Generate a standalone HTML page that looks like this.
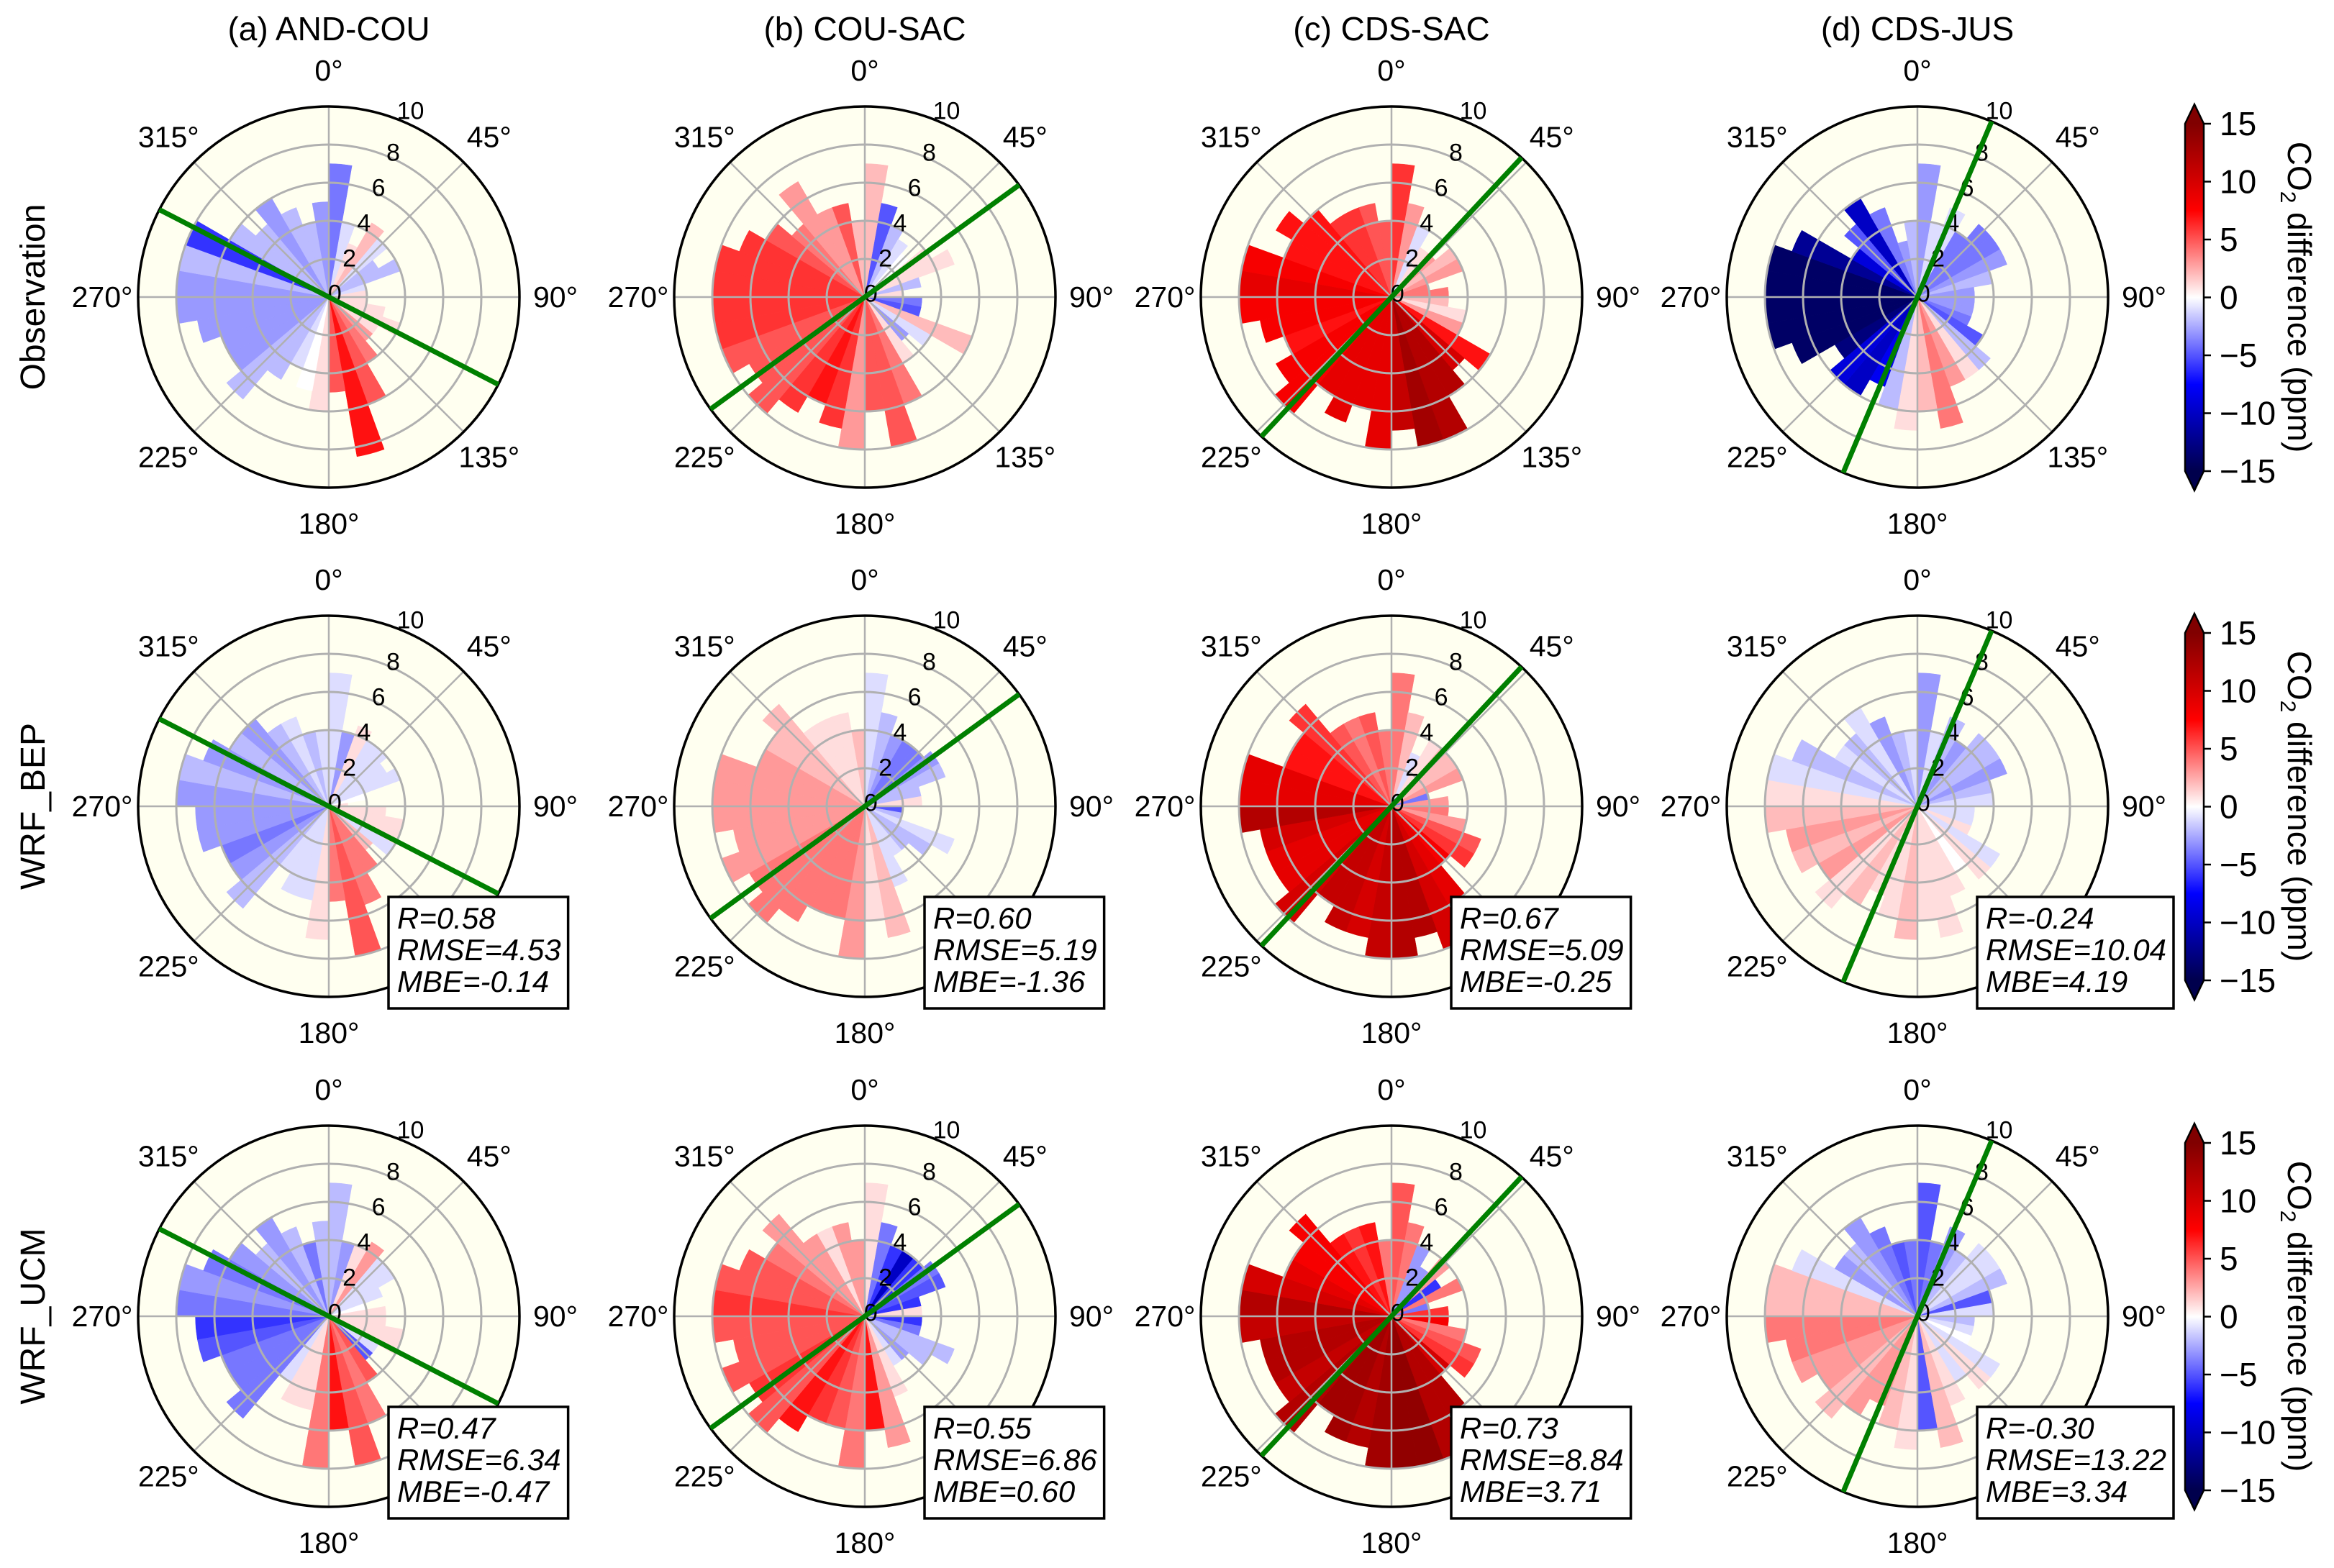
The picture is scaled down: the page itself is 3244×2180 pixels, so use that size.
<!DOCTYPE html>
<html><head><meta charset="utf-8"><title>CO2 difference polar plots</title>
<style>
html,body{margin:0;padding:0;background:#fff;}
svg{display:block;font-family:"Liberation Sans",Arial,sans-serif;}
</style></head>
<body>
<svg id="fig" xmlns="http://www.w3.org/2000/svg" width="3244" height="2180" viewBox="0 0 3244 2180">
<rect width="3244" height="2180" fill="#ffffff"/>
</svg>
<script>
// ---- data ----
const sectorAngles = [0,10,20,30,40,50,60,70,80,90,100,110,120,130,140,150,160,170,180,190,200,210,220,230,240,250,260,270,280,290,300,310,320,330,340,350];
const columnTitles = ["(a) AND-COU","(b) COU-SAC","(c) CDS-SAC","(d) CDS-JUS"];
const rowTitles = ["Observation","WRF_BEP","WRF_UCM"];
const radialTicks = [0,2,4,6,8,10];
const thetaTicks = [0,45,90,135,180,225,270,315];
const colorbarTicks = [-15,-10,-5,0,5,10,15];

const obsA_val = [-4,-1,1,2,-1,-2,-2,-1,1,1,1,1,1,3,4,5,7,5,1,0,-1,-2,-2,-3,-3,-3,-3,-3,-2,-6,-2,-2,-3,-2,-2,-3];
const obsA_ext = [7,4,3,4.5,4,3,4,2,2,2,3,4,3,3,4,6,8.5,5,6,5,4,5,7,6,6,7,8,8,8,8,6,5,6,5,4,5];
const obsB_val = [2,-5,-2,-1,0,1,1,-2,1,-4,-5,2,-1,-3,1,4,5,5,3,6,7,6,5,5,5,6,6,6,6,6,5,4,3,3,5,2];
const obsB_ext = [7,5,4,3.5,3,4,5,3,2,3,3,6,4,3,4,6,8,6,8,7,6,7,8,7,8,8,8,8,8,7,6,5,7,5,5,4];
const obsC_val = [6,3,-1,1,3,2,3,4,4,2,1,3,7,10,12,12,13,11,9,9,9,9,8,8,7,8,8,9,8,7,7,7,6,6,5,5];
const obsC_ext = [7,5,4,3,3,4,4,2,3,3,4,4,6,5,6,8,8,7,8,6,7,6,8,7,6,7,8,8,8,6,7,6,5,5,5,4];
const obsD_val = [-3,-1,-1,-4,-4,-4,-3,-2,-3,-3,-3,-4,-5,-2,1,3,4,2,1,-2,-8,-10,-9,-13,-14,-14,-14,-14,-14,-12,-9,-5,-10,-4,-3,-2];
const obsD_ext = [7,4,5,4,5,5,5,4,3,3,3,3,4,5,5,5,7,6,7,6,5,6,6,5,7,8,8,8,8,7,4,5,6,5,3,4];

const bepA_val = [-1,-3,1,-1,-1,-1,-1,0,1,1,1,1,-1,2,4,4,5,4,1,-1,-1,-1,-2,-3,-4,-3,-3,-3,-2,-3,-2,-3,-2,-1,-2,-1];
const bepA_ext = [7,4,4.5,4,4,3.5,4,2,1,3,4,4,4,3,4,5.5,8,5,7,5,5,4,7,6,6,7,7,8,8,7,6,6,5,5,4,4];
const bepB_val = [-1,-2,-3,-4,-4,-3,-2,-2,1,-5,-2,-1,-2,-2,-1,-1,2,1,3,4,4,4,4,4,3,3,3,3,3,3,2,2,1,1,1,2];
const bepB_ext = [7,5,4,4,4,4.5,4.5,3,3,2,2,5,4,3,3,4.5,7,6,8,6,6,7,8,7,8,7,8,8,8,6,6,7,5,5,5,4];
const bepC_val = [4,2,-1,1,2,2,3,-4,3,4,3,5,6,8,9,10,12,12,11,10,11,11,10,9,9,10,12,9,9,7,7,6,5,4,5,4];
const bepC_ext = [7,5,3,4,4,4,4,2,3,3,4,5,5,4,6,8,7,8,8,7,7,6,8,7,7,7,8,8,8,6,6,7,5,5,5,4];
const bepD_val = [-3,-1,-2,-3,-2,-2,-3,-2,-1,-1,-1,1,-1,1,0,1,1,1,2,1,1,2,1,3,2,3,2,1,-1,-2,-1,-2,-1,-3,-2,-1];
const bepD_ext = [7,4,5,4,5,5,5,4,4,3,3,3,5,5,4,5,7,6,7,6,5,6,7,6,7,7,8,8,8,7,5,5,6,5,4,4];

const ucmA_val = [-2,-3,1,3,-1,-1,-1,0,1,1,1,1,-1,-5,5,4,5,7,4,1,1,-1,-4,-4,-4,-5,-6,-4,-3,-4,-3,-2,-3,-2,-4,-2];
const ucmA_ext = [7,4,4,4.5,4,4,3,2,3,3,4,4,3,3,4,6,8,6,8,5,5,4,7,6,6,7,7,8,8,7,6,5,6,5,4,5];
const ucmB_val = [1,-4,-6,-10,-6,-4,-5,-6,1,-6,-4,-2,-2,-3,-1,1,3,7,4,5,6,7,5,6,5,5,5,6,5,5,4,3,3,1,3,3];
const ucmB_ext = [7,5,4,4,4,4.5,4.5,3,3,3,3,5,4,3,3,4.5,7,6,8,6,6,7,8,7,8,7,8,8,8,7,6,7,5,5,5,4];
const ucmC_val = [5,4,-3,-3,3,-6,4,-4,6,8,4,5,6,10,12,12,14,14,13,12,13,13,12,11,12,12,11,12,10,9,8,8,7,6,7,4];
const ucmC_ext = [7,5,4,3,4,3,4,2,3,3,4,5,5,4,6,8,8,8,8,7,7,6,8,7,7,7,8,8,8,6,6,7,5,5,5,4];
const ucmD_val = [-5,-4,-3,-2,-1,-1,-2,-5,-1,-2,-1,0,-1,1,-1,1,2,-5,1,2,3,3,2,3,3,4,4,2,2,-1,-3,-2,-3,-4,-5,-4];
const ucmD_ext = [7,4,5,4,5,5,5,4,4,3,3,3,5,5,4,5,7,6,7,6,5,6,7,6,7,7,8,8,8,7,5,5,6,5,4,4];

const trendAngles = [[117.3,54,43,22.9],[117.3,54,43,22.9],[117.3,54,43,22.9]];
const statR = [[null,null,null,null],["0.58","0.60","0.67","-0.24"],["0.47","0.55","0.73","-0.30"]];
const statRMSE = [[null,null,null,null],["4.53","5.19","5.09","10.04"],["6.34","6.86","8.84","13.22"]];
const statMBE = [[null,null,null,null],["-0.14","-1.36","-0.25","4.19"],["-0.47","0.60","3.71","3.34"]];

const panelVals = [[obsA_val,obsB_val,obsC_val,obsD_val],[bepA_val,bepB_val,bepC_val,bepD_val],[ucmA_val,ucmB_val,ucmC_val,ucmD_val]];
const panelExts = [[obsA_ext,obsB_ext,obsC_ext,obsD_ext],[bepA_ext,bepB_ext,bepC_ext,bepD_ext],[ucmA_ext,ucmB_ext,ucmC_ext,ucmD_ext]];

// ---- layout ----
const NS = "http://www.w3.org/2000/svg";
const svg = document.getElementById('fig');
const colX = [457,1202,1934,2665];
const rowY = [413,1121,1830];
const R = 265, RMAX = 10, VMIN = -15, VMAX = 15;
const rScale = v => v / RMAX * R;

function mk(tag, attrs, parent){
  const e = document.createElementNS(NS, tag);
  for (const k in attrs) e.setAttribute(k, attrs[k]);
  (parent||svg).appendChild(e);
  return e;
}
function pt(cx, cy, deg, r){
  const a = deg * Math.PI / 180;
  return [cx + r * Math.sin(a), cy - r * Math.cos(a)];
}
function seismic(v){
  let t = (v - VMIN) / (VMAX - VMIN);
  t = Math.max(0, Math.min(1, t));
  const stops = [[0,[0,0,77]],[0.25,[0,0,255]],[0.5,[255,255,255]],[0.75,[255,0,0]],[1,[128,0,0]]];
  for (let i = 0; i < stops.length - 1; i++){
    const [t0,c0] = stops[i], [t1,c1] = stops[i+1];
    if (t <= t1){
      const f = (t - t0) / (t1 - t0);
      return 'rgb(' + c0.map((c,j)=>Math.round(c + (c1[j]-c)*f)).join(',') + ')';
    }
  }
  return 'rgb(128,0,0)';
}
function wedge(cx, cy, a0, a1, r){
  const p0 = pt(cx,cy,a0,r), p1 = pt(cx,cy,a1,r);
  return `M${cx},${cy} L${p0[0].toFixed(2)},${p0[1].toFixed(2)} A${r},${r} 0 0 1 ${p1[0].toFixed(2)},${p1[1].toFixed(2)} Z`;
}

columnTitles.forEach((t,i)=>{
  const e = mk('text',{x:colX[i], y:56, 'text-anchor':'middle', 'font-size':46, fill:'#000'});
  
  
  e.textContent = t;
});
rowTitles.forEach((t,i)=>{
  const e = mk('text',{x:0, y:0, transform:`translate(62,${rowY[i]}) rotate(-90)`, 'text-anchor':'middle', 'font-size':48, fill:'#000'});
  
  
  e.textContent = t;
});

for (let ri = 0; ri < 3; ri++){
  for (let ci = 0; ci < 4; ci++){
    const cx = colX[ci], cy = rowY[ri];
    const g = mk('g',{});
    
    
    const bg = mk('circle',{cx:cx, cy:cy, r:R, fill:'#fffff0'}, g);
    
    
    const vals = panelVals[ri][ci], exts = panelExts[ri][ci];
    sectorAngles.forEach((a,k)=>{
      const col = seismic(vals[k]);
      const w = mk('path',{d:wedge(cx,cy,a,a+10,rScale(exts[k])), fill:col, stroke:col, 'stroke-width':0.5}, g);
      
      
    });
    [2,4,6,8].forEach(rv=>{
      const c = mk('circle',{cx:cx, cy:cy, r:rScale(rv), fill:'none', stroke:'#b0b0b0', 'stroke-width':3}, g);
      
      
    });
    thetaTicks.forEach(a=>{
      const p = pt(cx,cy,a,R);
      const l = mk('line',{x1:cx, y1:cy, x2:p[0], y2:p[1], stroke:'#b0b0b0', 'stroke-width':2.5}, g);
      
      
    });
    const oc = mk('circle',{cx:cx, cy:cy, r:R, fill:'none', stroke:'#000', 'stroke-width':3.5}, g);
    
    
    radialTicks.forEach(rv=>{
      const p = pt(cx,cy,22.5,rScale(rv) + (rv===10?16:6));
      const t = mk('text',{x:p[0]+6, y:p[1]+12, 'text-anchor':'middle', 'font-size':34, fill:'#000'}, g);
      
      
      t.textContent = rv;
    });
    thetaTicks.forEach(a=>{
      const p = pt(cx,cy,a,R+50);
      const t = mk('text',{x:p[0], y:p[1]+14, 'text-anchor':'middle', 'font-size':41, fill:'#000'}, g);
      
      
      t.textContent = a + '\u00B0';
    });
    const ang = trendAngles[ri][ci];
    const p1 = pt(cx,cy,ang,R), p2 = pt(cx,cy,ang+180,R);
    const tl = mk('line',{x1:p1[0], y1:p1[1], x2:p2[0], y2:p2[1], stroke:'#008000', 'stroke-width':7}, g);
    
    
    if (statR[ri][ci] !== null){
      const lines = ['R=' + statR[ri][ci], 'RMSE=' + statRMSE[ri][ci], 'MBE=' + statMBE[ri][ci]];
      const bx = cx + 83, by = cy + 126;
      const box = mk('rect',{x:bx, y:by, width:100, height:155, fill:'#fff', stroke:'#000', 'stroke-width':3.5}, g);
      
      
      let maxW = 0;
      lines.forEach((s,j)=>{
        const t = mk('text',{x:bx+12, y:by+44+j*44, 'font-size':42, 'font-style':'italic', fill:'#000'}, g);
        
        
        t.textContent = s;
        maxW = Math.max(maxW, t.getComputedTextLength());
      });
      box.setAttribute('width', maxW + 22);
    }
  }
  const cy = rowY[ri];
  const x0 = 3037, x1 = 3063, yTop = cy - 241, yBot = cy + 242;
  const cb = mk('g',{});
  
  
  const gid = 'cbgrad' + ri;
  const defs = mk('defs',{}, cb);
  const lg = mk('linearGradient',{id:gid, x1:0, y1:1, x2:0, y2:0}, defs);
  for (let s = 0; s <= 20; s++){
    const v = VMIN + (VMAX - VMIN) * s / 20;
    mk('stop',{offset:(s/20), 'stop-color':seismic(v)}, lg);
  }
  const bar = mk('rect',{x:x0, y:yTop, width:x1-x0, height:yBot-yTop, fill:`url(#${gid})`}, cb);
  
  
  const up = mk('polygon',{points:`${x0},${yTop} ${x1},${yTop} ${(x0+x1)/2},${yTop-27}`, fill:seismic(VMAX+1)}, cb);
  
  
  const dn = mk('polygon',{points:`${x0},${yBot} ${x1},${yBot} ${(x0+x1)/2},${yBot+27}`, fill:seismic(VMIN-1)}, cb);
  
  
  const ol = mk('polygon',{points:`${x0},${yTop} ${(x0+x1)/2},${yTop-27} ${x1},${yTop} ${x1},${yBot} ${(x0+x1)/2},${yBot+27} ${x0},${yBot}`, fill:'none', stroke:'#000', 'stroke-width':2.5}, cb);
  
  
  const cbY = v => yBot - (v - VMIN) / (VMAX - VMIN) * (yBot - yTop);
  colorbarTicks.forEach(v=>{
    const y = cbY(v);
    const tk = mk('line',{x1:x1, y1:y, x2:x1+10, y2:y, stroke:'#000', 'stroke-width':2.5}, cb);
    
    
    const t = mk('text',{x:3085, y:y+16, 'font-size':46, fill:'#000'}, cb);
    
    
    t.textContent = v < 0 ? '\u2212' + Math.abs(v) : String(v);
  });
  const lab = mk('text',{x:0, y:0, transform:`translate(3180,${cy}) rotate(90)`, 'text-anchor':'middle', 'font-size':46, fill:'#000'}, cb);
  
  
  lab.innerHTML = 'CO<tspan font-size="30" dy="10">2</tspan><tspan dy="-10"> difference (ppm)</tspan>';
}
</script>
</body></html>
